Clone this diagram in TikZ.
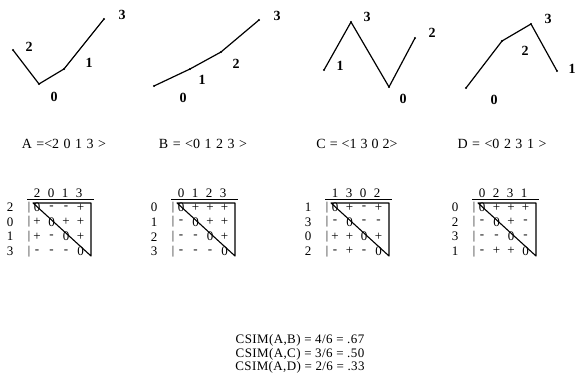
\documentclass[tikz,border=0pt]{standalone}
\usepackage{fontspec}
\setmainfont{Liberation Serif}
\newcommand\drawmat[4]{%
  \begin{scope}[shift={(#2,0)}]
    \foreach \hh [count=\ii from 0] in {#3}
      \node[cell] (#1h\ii) at (\ii*14,193) {\hh};
    \draw[rule] (-10,199.5) -- (57,199.5);
    \foreach \lab/\ea/\eb/\ec/\ed [count=\rr from 0] in {#4} {
      \pgfmathsetmacro\yy{207.5+14.6*\rr}
      \node[cell] (#1r\rr) at (-27,\yy) {\lab};
      \node[barch] (#1bar\rr) at (-8,\yy) {\textbar};
      \node[cell] (#1c\rr a) at (0,\yy) {\ea};
      \node[cell] (#1c\rr b) at (14.5,\yy) {\eb};
      \node[cell] (#1c\rr c) at (29,\yy) {\ec};
      \node[cell] (#1c\rr d) at (43.5,\yy) {\ed};
    }
    \coordinate (#1tl) at (-4,203);
    \coordinate (#1tr) at (54,203);
    \coordinate (#1br) at (54,256);
    \draw[tri] (#1tl) -- (#1tr) -- (#1br) -- cycle;
  \end{scope}}
\begin{document}
\begin{tikzpicture}[x=1pt,y=-1pt,
  every node/.style={inner sep=0pt},
  txt/.style={font=\fontsize{14}{15}\selectfont},
  cell/.style={font=\fontsize{13}{14}\selectfont},
  barch/.style={font=\fontsize{12}{13}\selectfont},
  ptlab/.style={font=\fontsize{14}{15}\selectfont\bfseries},
  curve/.style={line width=1.2pt, line join=round},
  vdot/.style={fill, circle, inner sep=0pt, minimum size=2.4pt},
  rule/.style={line width=1pt},
  tri/.style={line width=1.1pt, line join=round}]
\useasboundingbox (0,0) rectangle (575,387);

% Panel A
\coordinate (a2) at (13,50);
\coordinate (a0) at (39,84);
\coordinate (a1) at (64,69);
\coordinate (a3) at (104,19);
\draw[curve] (a2) -- (a0) -- (a1) -- (a3);
\foreach \p in {a2,a0,a1,a3} \node[vdot] (d\p) at (\p) {};
\node[ptlab] (la2) at (29,47) {2};
\node[ptlab] (la1) at (89,63) {1};
\node[ptlab] (la0) at (54,97) {0};
\node[ptlab] (la3) at (122,15) {3};

% Panel B
\coordinate (b0) at (154,86);
\coordinate (b1) at (190,69);
\coordinate (b2) at (221,52);
\coordinate (b3) at (259,20);
\draw[curve] (b0) -- (b1) -- (b2) -- (b3);
\foreach \p in {b0,b1,b2,b3} \node[vdot] (d\p) at (\p) {};
\node[ptlab] (lb0) at (183,98) {0};
\node[ptlab] (lb1) at (202,80) {1};
\node[ptlab] (lb2) at (236,64) {2};
\node[ptlab] (lb3) at (277,16) {3};

% Panel C
\coordinate (c1) at (324,70);
\coordinate (c3) at (351,22);
\coordinate (c0) at (389,87);
\coordinate (c2) at (415,38);
\draw[curve] (c1) -- (c3) -- (c0) -- (c2);
\foreach \p in {c1,c3,c0,c2} \node[vdot] (d\p) at (\p) {};
\node[ptlab] (lc1) at (340,66) {1};
\node[ptlab] (lc3) at (367,17) {3};
\node[ptlab] (lc0) at (403,99) {0};
\node[ptlab] (lc2) at (432,33) {2};

% Panel D
\coordinate (e0) at (466,88);
\coordinate (e2) at (502,41);
\coordinate (e3) at (531,24);
\coordinate (e1) at (557,71);
\draw[curve] (e0) -- (e2) -- (e3) -- (e1);
\foreach \p in {e0,e2,e3,e1} \node[vdot] (d\p) at (\p) {};
\node[ptlab] (le0) at (494,100) {0};
\node[ptlab] (le2) at (525,51) {2};
\node[ptlab] (le3) at (548,19) {3};
\node[ptlab] (le1) at (572,69) {1};

% Sequences
\node[txt] (tA) at (64,144) {\spaceskip=4.5pt A =<2 0 1 3 >};
\node[txt] (tB) at (203,144) {\spaceskip=4.5pt B = <0 1 2 3 >};
\node[txt] (tC) at (357,144) {\spaceskip=4pt C = <1 3 0 2>};
\node[txt] (tD) at (502,144) {\spaceskip=4.5pt D = <0 2 3 1 >};

% Matrices
\drawmat{A}{37}{2,0,1,3}{2/0/-/-/+, 0/+/0/+/+, 1/+/-/0/+, 3/-/-/-/0}
\drawmat{B}{181}{0,1,2,3}{0/0/+/+/+, 1/-/0/+/+, 2/-/-/0/+, 3/-/-/-/0}
\drawmat{C}{335}{1,3,0,2}{1/0/+/-/+, 3/-/0/-/-, 0/+/+/0/+, 2/-/+/-/0}
\drawmat{D}{482}{0,2,3,1}{0/0/+/+/+, 2/-/0/+/-, 3/-/-/0/-, 1/-/+/+/0}

% Similarities
\node[font=\fontsize{13}{13.7}\selectfont\addfontfeatures{LetterSpace=3}, align=center] (csim) at (300,354)
  {CSIM(A,B) = 4/6 = .67\\CSIM(A,C) = 3/6 = .50\\CSIM(A,D) = 2/6 = .33};
\end{tikzpicture}
\end{document}
